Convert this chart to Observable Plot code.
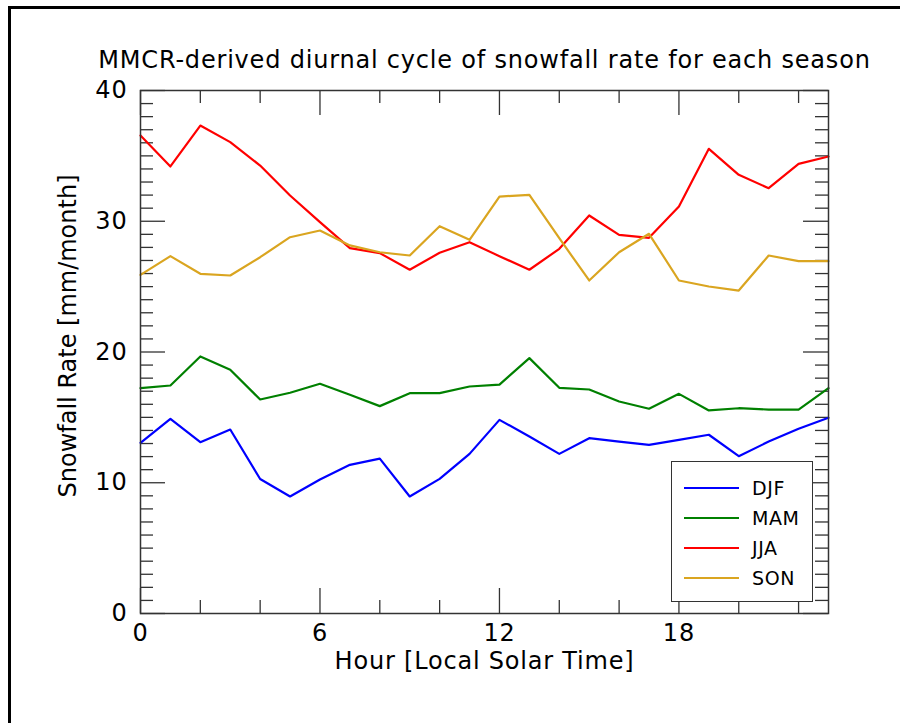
<!DOCTYPE html>
<html>
<head>
<meta charset="utf-8">
<script src="https://cdn.jsdelivr.net/npm/d3@7"></script>
<script src="https://cdn.jsdelivr.net/npm/@observablehq/plot@0.6"></script>
<style>
  html, body { margin: 0; padding: 0; background: white; }
  #wrap { position: relative; width: 900px; height: 723px; overflow: hidden; font-family: "DejaVu Sans", sans-serif; }
  #border { position: absolute; left: 8px; top: 6px; width: 1000px; height: 1000px; border-top: 3px solid #000; border-left: 3px solid #000; pointer-events: none; z-index: 3; }
  #legend { position: absolute; left: 671px; top: 461px; width: 142px; height: 141px; border: 1.5px solid #333; background: white; z-index: 2; box-sizing: border-box; }
  .row { position: absolute; left: 0; height: 20px; }
  .row .sw { position: absolute; left: 12px; top: 9px; width: 55px; height: 0; border-top: 2.5px solid; }
  .row .lb { position: absolute; left: 80px; top: -2px; font-size: 19px; letter-spacing: 0.6px; line-height: 24px; color: #000; white-space: nowrap; }
</style>
</head>
<body>
<div id="wrap"><div id="border"></div><div id="legend"></div></div>
<script>
const hours = d3.range(0, 24);
const seasons = ["DJF", "MAM", "JJA", "SON"];
const colors = ["#0000ff", "#008000", "#ff0000", "#daa520"];
const djf = [13.05, 14.89, 13.10, 14.07, 10.29, 8.95, 10.25, 11.37, 11.85, 8.95, 10.30, 12.21,
             14.81, 13.54, 12.21, 13.41, 13.15, 12.90, 13.28, 13.67, 12.03, 13.15, 14.13, 14.97];
const mam = [17.23, 17.44, 19.66, 18.64, 16.37, 16.88, 17.57, 16.73, 15.86, 16.85, 16.85, 17.36,
             17.51, 19.53, 17.26, 17.13, 16.21, 15.66, 16.80, 15.53, 15.70, 15.60, 15.60, 17.23];
const jja = [36.56, 34.19, 37.32, 36.05, 34.26, 31.97, 29.93, 27.94, 27.56, 26.29, 27.59, 28.40,
             27.33, 26.29, 27.89, 30.44, 28.96, 28.73, 31.13, 35.54, 33.55, 32.53, 34.39, 34.95];
const son = [25.90, 27.33, 25.98, 25.85, 27.25, 28.78, 29.29, 28.15, 27.63, 27.38, 29.62, 28.58,
             31.89, 32.02, 28.70, 25.47, 27.63, 29.04, 25.47, 25.01, 24.70, 27.38, 26.95, 26.95];
const xMajor = [0, 6, 12, 18];
const xMinor = [2, 4, 8, 10, 14, 16, 20, 22];
const yMajor = [0, 10, 20, 30, 40];
const yMinor = d3.range(0, 41).filter(v => v % 10 !== 0);
const title = "MMCR-derived diurnal cycle of snowfall rate for each season";
const xLabel = "Hour [Local Solar Time]";
const yLabel = "Snowfall Rate [mm/month]";

const series = [djf, mam, jja, son];
const data = [];
series.forEach((vals, i) => vals.forEach((v, h) => data.push({season: seasons[i], hour: hours[h], value: v})));

const W = 900, H = 723;
const mL = 140, mR = 72, mT = 90, mB = 110;
const ph = H - mT - mB, pw = W - mL - mR;
const tickStroke = "#333";
const majL = 25, minL = 13;
const FS = 24;

const plot = Plot.plot({
  width: W, height: H,
  marginLeft: mL, marginRight: mR, marginTop: mT, marginBottom: mB,
  style: {fontFamily: "DejaVu Sans, sans-serif", background: "white", overflow: "visible"},
  x: {domain: [0, 23], axis: null},
  y: {domain: [0, 40], axis: null},
  color: {domain: seasons, range: colors},
  marks: [
    Plot.tickX(xMinor, {x: d => d, insetTop: ph - minL, stroke: tickStroke, strokeWidth: 1.3}),
    Plot.tickX(xMinor, {x: d => d, insetBottom: ph - minL, stroke: tickStroke, strokeWidth: 1.3}),
    Plot.tickX(xMajor, {x: d => d, insetTop: ph - majL, stroke: tickStroke, strokeWidth: 1.3}),
    Plot.tickX(xMajor, {x: d => d, insetBottom: ph - majL, stroke: tickStroke, strokeWidth: 1.3}),
    Plot.tickY(yMinor, {y: d => d, insetRight: pw - minL, stroke: tickStroke, strokeWidth: 1.3}),
    Plot.tickY(yMinor, {y: d => d, insetLeft: pw - minL, stroke: tickStroke, strokeWidth: 1.3}),
    Plot.tickY(yMajor, {y: d => d, insetRight: pw - majL, stroke: tickStroke, strokeWidth: 1.3}),
    Plot.tickY(yMajor, {y: d => d, insetLeft: pw - majL, stroke: tickStroke, strokeWidth: 1.3}),
    Plot.lineY(data, {x: "hour", y: "value", stroke: "season", strokeWidth: 2.2, z: "season"}),
    Plot.frame({stroke: "#333", strokeWidth: 1.5}),
    Plot.text(xMajor, {x: d => d, frameAnchor: "bottom", lineAnchor: "middle", dy: 20, text: d => String(d), fontSize: FS, fill: "#000", className: "htext"}),
    Plot.text(yMajor, {y: d => d, frameAnchor: "left", lineAnchor: "middle", dx: -13, textAnchor: "end", text: d => String(d), fontSize: FS, fill: "#000", className: "htext"}),
    Plot.text([title], {frameAnchor: "top", lineAnchor: "middle", textAnchor: "middle", dy: -30, text: d => d, fontSize: FS, fill: "#000", className: "htext"}),
    Plot.text([xLabel], {frameAnchor: "bottom", lineAnchor: "middle", textAnchor: "middle", dy: 48, text: d => d, fontSize: FS, fill: "#000", className: "htext"}),
    Plot.text([yLabel], {frameAnchor: "left", lineAnchor: "middle", textAnchor: "middle", dx: -72, dy: -16, rotate: -90, text: d => d, fontSize: FS, fill: "#000"})
  ]
});
plot.style.position = "absolute";
plot.style.left = "0px";
plot.style.top = "0px";
d3.select(plot).selectAll("g.htext text").attr("letter-spacing", "0.8px");
document.getElementById("wrap").appendChild(plot);

const legend = document.getElementById("legend");
seasons.forEach((s, i) => {
  const row = document.createElement("div");
  row.className = "row";
  row.style.top = (16 + i * 30) + "px";
  row.style.width = "100%";
  const sw = document.createElement("div");
  sw.className = "sw";
  sw.style.borderTopColor = colors[i];
  const lb = document.createElement("div");
  lb.className = "lb";
  lb.textContent = s;
  row.appendChild(sw);
  row.appendChild(lb);
  legend.appendChild(row);
});
</script>
</body>
</html>
